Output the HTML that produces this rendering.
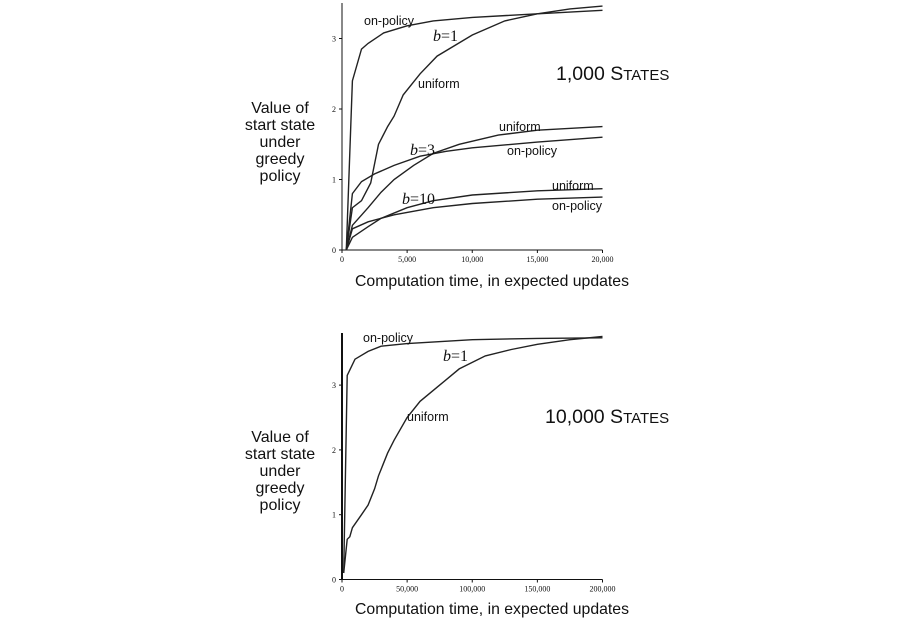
<!DOCTYPE html>
<html><head><meta charset="utf-8"><style>
body{margin:0;background:#fff}
svg text{font-family:"Liberation Sans",sans-serif;fill:#111}
.t{font-family:"Liberation Serif",serif;font-size:8px}
.s{font-family:"Liberation Serif",serif;font-size:16px}
</style></head><body>
<svg id="c" width="900" height="620" xmlns="http://www.w3.org/2000/svg"></svg>
<script>
const topOnB1X=[0.33,0.8,1.5,2,3.2,5,7,10,15,20];
const topOnB1Y=[0,2.4,2.85,2.93,3.08,3.18,3.25,3.3,3.35,3.4];
const topUnB1X=[0.33,0.8,1.5,2.2,2.8,3.5,4,4.7,6,7.3,10,12.5,15,17.5,20];
const topUnB1Y=[0,0.6,0.7,0.95,1.5,1.75,1.9,2.2,2.5,2.75,3.05,3.25,3.35,3.42,3.46];
const topOnB3X=[0.33,0.8,1.5,2.5,4,6,8,10,15,20];
const topOnB3Y=[0,0.8,0.97,1.08,1.2,1.33,1.4,1.45,1.53,1.6];
const topUnB3X=[0.33,0.8,2,3,4,5.5,7,9,12,15,20];
const topUnB3Y=[0,0.35,0.6,0.82,1.0,1.2,1.37,1.5,1.63,1.7,1.75];
const topUnB10X=[0.33,0.8,2,3,5,7,10,15,20];
const topUnB10Y=[0,0.18,0.33,0.45,0.6,0.7,0.78,0.84,0.87];
const topOnB10X=[0.33,0.8,2,4,7,10,15,20];
const topOnB10Y=[0,0.3,0.4,0.5,0.6,0.66,0.72,0.75];
const botOnX=[1.3,4,10,20,30,50,100,150,200];
const botOnY=[0.1,3.15,3.4,3.52,3.6,3.64,3.7,3.72,3.73];
const botUnX=[1.3,4,6,8,15,20,25,28,35,40,50,60,75,90,110,130,150,175,200];
const botUnY=[0.1,0.62,0.66,0.8,1.0,1.15,1.4,1.6,1.95,2.15,2.5,2.75,3.0,3.25,3.45,3.55,3.63,3.7,3.75];
const topXTicks=[0,5,10,15,20];const topXLabels=["0","5,000","10,000","15,000","20,000"];
const botXTicks=[0,50,100,150,200];const botXLabels=["0","50,000","100,000","150,000","200,000"];
const yTicks=[0,1,2,3];

const svg=document.getElementById('c');const NS='http://www.w3.org/2000/svg';
function mk(t,a,txt){const e=document.createElementNS(NS,t);for(const k in a)e.setAttribute(k,a[k]);if(txt!==undefined)e.textContent=txt;svg.appendChild(e);return e;}
function panel(p){
 const sx=v=>p.x0+v/p.xmax*(p.x1-p.x0), sy=v=>p.y0-v*p.ky;
 let e=mk('line',{x1:p.x0,y1:p.y0,x2:p.x0,y2:p.ytop,stroke:'#111','stroke-width':p.aw});
 
 e=mk('line',{x1:p.x0,y1:p.y0,x2:p.x1,y2:p.y0,stroke:'#111','stroke-width':1});
 
 yTicks.forEach(v=>{mk('line',{x1:p.x0-3,y1:sy(v),x2:p.x0,y2:sy(v),stroke:'#111'});
  e=mk('text',{x:p.x0-6,y:sy(v)+3,'text-anchor':'end',class:'t'},String(v));
  });
 p.xt.forEach((v,i)=>{mk('line',{x1:sx(v),y1:p.y0,x2:sx(v),y2:p.y0+3,stroke:'#111'});
  e=mk('text',{x:sx(v),y:p.y0+12,'text-anchor':'middle',class:'t'},p.xl[i]);
  });
 p.series.forEach(s=>{const d=s[1].map((x,i)=>(i?'L':'M')+sx(x).toFixed(1)+','+sy(s[2][i]).toFixed(1)).join('');
  e=mk('path',{d:d,fill:'none',stroke:'#222','stroke-width':1.4});
  });
}
panel({id:'top',x0:342,x1:602.5,y0:250,ytop:3,ky:70.5,xmax:20,aw:1,xt:topXTicks,xl:topXLabels,series:[
 ['on-policy-b1-line',topOnB1X,topOnB1Y],['uniform-b1-line',topUnB1X,topUnB1Y],['on-policy-b3-line',topOnB3X,topOnB3Y],
 ['uniform-b3-line',topUnB3X,topUnB3Y],['uniform-b10-line',topUnB10X,topUnB10Y],['on-policy-b10-line',topOnB10X,topOnB10Y]]});
panel({id:'bottom',x0:342,x1:602.5,y0:579.5,ytop:333,ky:64.8,xmax:200,aw:2,xt:botXTicks,xl:botXLabels,series:[
 ['on-policy-b1-line',botOnX,botOnY],['uniform-b1-line',botUnX,botUnY]]});
</script>
<svg width="900" height="620" style="position:absolute;left:0;top:0">
<g font-family="Liberation Sans,sans-serif" fill="#111">
<text x="364" y="25" font-size="12.5">on-policy</text>
<text x="433" y="41" class="s"><tspan font-style="italic">b</tspan>=1</text>
<text x="418" y="88" font-size="12.5">uniform</text>
<text x="556" y="80" font-size="19.5">1,000 S<tspan font-size="15">TATES</tspan></text>
<text x="499" y="131" font-size="12.5">uniform</text>
<text x="410" y="155" class="s"><tspan font-style="italic">b</tspan>=3</text>
<text x="507" y="155" font-size="12.5">on-policy</text>
<text x="402" y="204" class="s"><tspan font-style="italic">b</tspan>=10</text>
<text x="552" y="190" font-size="12.5">uniform</text>
<text x="552" y="210" font-size="12.5">on-policy</text>
<text x="280" y="113" font-size="16" text-anchor="middle"><tspan x="280">Value of</tspan><tspan x="280" dy="17">start state</tspan><tspan x="280" dy="17">under</tspan><tspan x="280" dy="17">greedy</tspan><tspan x="280" dy="17">policy</tspan></text>
<text x="492" y="286" font-size="15.8" text-anchor="middle">Computation time, in expected updates</text>
<text x="363" y="342" font-size="12.5">on-policy</text>
<text x="443" y="361" class="s"><tspan font-style="italic">b</tspan>=1</text>
<text x="407" y="421" font-size="12.5">uniform</text>
<text x="545" y="423" font-size="19.5">10,000 S<tspan font-size="15">TATES</tspan></text>
<text x="280" y="442" font-size="16" text-anchor="middle"><tspan x="280">Value of</tspan><tspan x="280" dy="17">start state</tspan><tspan x="280" dy="17">under</tspan><tspan x="280" dy="17">greedy</tspan><tspan x="280" dy="17">policy</tspan></text>
<text x="492" y="614" font-size="15.8" text-anchor="middle">Computation time, in expected updates</text>
</g></svg>
</body></html>
